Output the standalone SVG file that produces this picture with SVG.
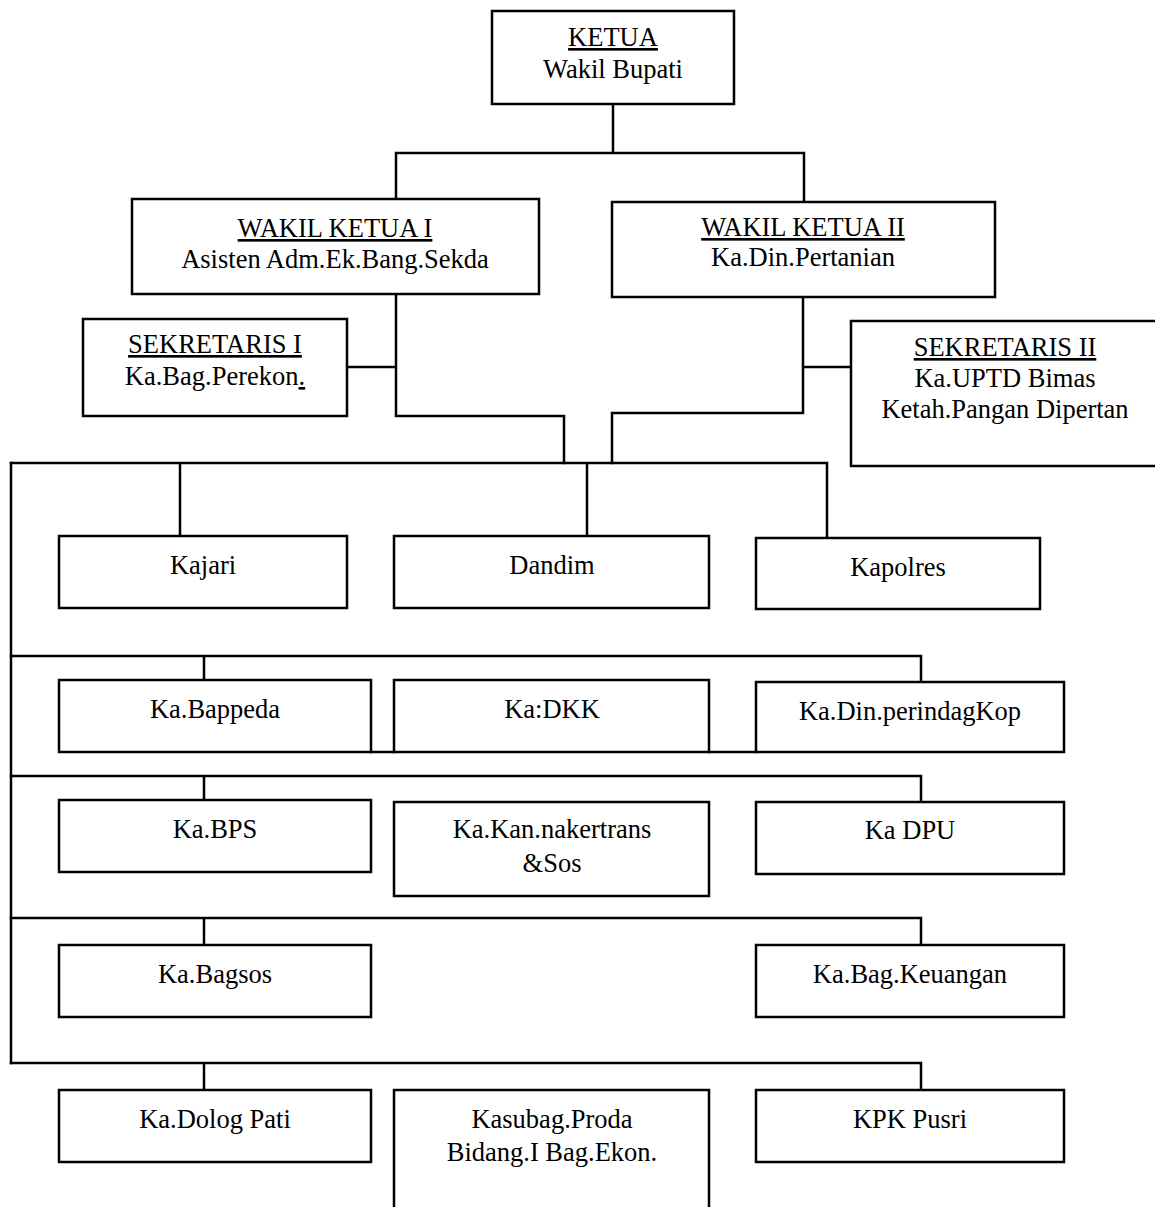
<svg xmlns="http://www.w3.org/2000/svg" width="1155" height="1207" viewBox="0 0 1155 1207">
  <style>
    .box { fill: #ffffff; stroke: #000000; stroke-width: 2.5; }
    .ln { fill: none; stroke: #000000; stroke-width: 2.5; stroke-linecap: square; }
    text { font-family: "Liberation Serif", "Times New Roman", serif; font-size: 26.5px; fill: #000000; text-anchor: middle; }
    .u { text-decoration: underline; }
  </style>
  <rect width="1155" height="1207" fill="#ffffff"/>

  <!-- connectors -->
  <g id="connectors">
    <path class="ln" d="M613,104 V153 M396,153 H804 M396,153 V199 M804,153 V202"/>
    <path class="ln" d="M396,294 V416 H564 V463 M347,367 H396"/>
    <path class="ln" d="M803,297 V413 H612 V463 M803,367 H851"/>
    <path class="ln" d="M11,463 H827 V538 M180,463 V536 M587,463 V536"/>
    <path class="ln" d="M11,463 V1063"/>
    <path class="ln" d="M11,656 H921 V682 M204,656 V680"/>
    <path class="ln" d="M371,752 H394 M709,752 H756"/>
    <path class="ln" d="M11,776 H921 V802 M204,776 V800"/>
    <path class="ln" d="M11,918 H921 V945 M204,918 V945"/>
    <path class="ln" d="M11,1063 H921 V1090 M204,1063 V1090"/>
  </g>

  <g id="ketua">
    <rect class="box" x="492" y="11" width="242" height="93"/>
    <text x="613" y="46" class="u">KETUA</text>
    <text x="613" y="78">Wakil Bupati</text>
  </g>

  <g id="wakil-ketua-1">
    <rect class="box" x="132" y="199" width="407" height="95"/>
    <text x="335" y="237" class="u">WAKIL KETUA I</text>
    <text x="335" y="268">Asisten Adm.Ek.Bang.Sekda</text>
  </g>

  <g id="wakil-ketua-2">
    <rect class="box" x="612" y="202" width="383" height="95"/>
    <text x="803" y="236" class="u">WAKIL KETUA II</text>
    <text x="803" y="266">Ka.Din.Pertanian</text>
  </g>

  <g id="sekretaris-1">
    <rect class="box" x="83" y="319" width="264" height="97"/>
    <text x="215" y="353" class="u">SEKRETARIS I</text>
    <text x="215" y="385">Ka.Bag.Perekon<tspan class="u">.</tspan></text>
  </g>

  <g id="sekretaris-2">
    <path class="box" d="M1160,321 H851 V466 H1160"/>
    <text x="1005" y="356" class="u">SEKRETARIS II</text>
    <text x="1005" y="387">Ka.UPTD Bimas</text>
    <text x="1005" y="418">Ketah.Pangan Dipertan</text>
  </g>

  <g id="kajari">
    <rect class="box" x="59" y="536" width="288" height="72"/>
    <text x="203" y="574">Kajari</text>
  </g>
  <g id="dandim">
    <rect class="box" x="394" y="536" width="315" height="72"/>
    <text x="552" y="574">Dandim</text>
  </g>
  <g id="kapolres">
    <rect class="box" x="756" y="538" width="284" height="71"/>
    <text x="898" y="576">Kapolres</text>
  </g>

  <g id="bappeda">
    <rect class="box" x="59" y="680" width="312" height="72"/>
    <text x="215" y="718">Ka.Bappeda</text>
  </g>
  <g id="dkk">
    <rect class="box" x="394" y="680" width="315" height="72"/>
    <text x="552" y="718">Ka:DKK</text>
  </g>
  <g id="perindagkop">
    <rect class="box" x="756" y="682" width="308" height="70"/>
    <text x="910" y="720">Ka.Din.perindagKop</text>
  </g>

  <g id="bps">
    <rect class="box" x="59" y="800" width="312" height="72"/>
    <text x="215" y="838">Ka.BPS</text>
  </g>
  <g id="nakertrans">
    <rect class="box" x="394" y="802" width="315" height="94"/>
    <text x="552" y="838">Ka.Kan.nakertrans</text>
    <text x="552" y="872">&amp;Sos</text>
  </g>
  <g id="dpu">
    <rect class="box" x="756" y="802" width="308" height="72"/>
    <text x="910" y="839">Ka DPU</text>
  </g>

  <g id="bagsos">
    <rect class="box" x="59" y="945" width="312" height="72"/>
    <text x="215" y="983">Ka.Bagsos</text>
  </g>
  <g id="keuangan">
    <rect class="box" x="756" y="945" width="308" height="72"/>
    <text x="910" y="983">Ka.Bag.Keuangan</text>
  </g>

  <g id="dolog">
    <rect class="box" x="59" y="1090" width="312" height="72"/>
    <text x="215" y="1128">Ka.Dolog Pati</text>
  </g>
  <g id="proda">
    <path class="box" d="M394,1212 V1090 H709 V1212"/>
    <text x="552" y="1128">Kasubag.Proda</text>
    <text x="552" y="1161">Bidang.I Bag.Ekon.</text>
  </g>
  <g id="pusri">
    <rect class="box" x="756" y="1090" width="308" height="72"/>
    <text x="910" y="1128">KPK Pusri</text>
  </g>
</svg>
